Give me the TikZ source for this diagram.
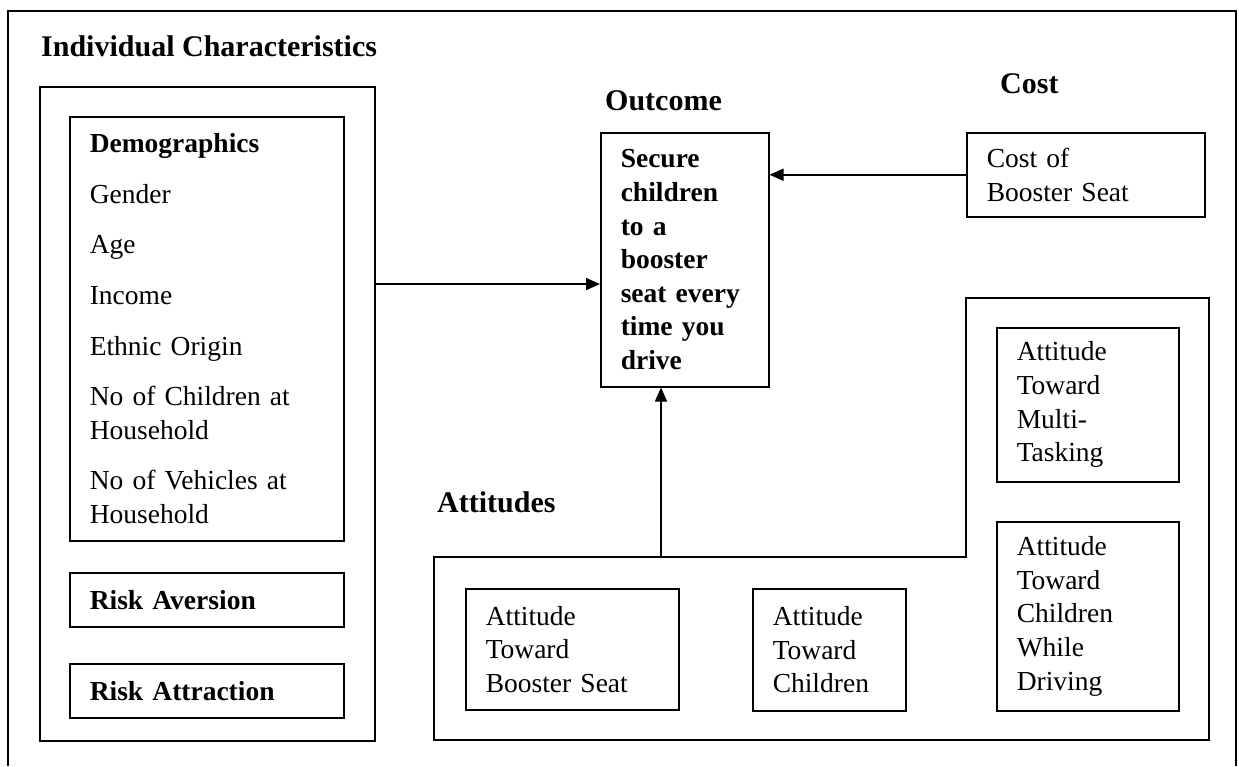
\documentclass[tikz,border=0pt]{standalone}
\usepackage{fontspec}
\setmainfont{Liberation Serif}
\usetikzlibrary{positioning, arrows.meta}

\newcommand{\bodyfont}{\fontsize{27.5}{33.6}\selectfont}
\newcommand{\headfont}{\fontsize{30}{36}\selectfont\bfseries}

\begin{document}
\begin{tikzpicture}[
        x=1pt, y=-1pt,
        box/.style={
            rectangle,
            draw,
            line width=1.5pt,
            anchor=north west,
            inner xsep=20pt,
            inner ysep=0pt,
            align=left,
            font=\bodyfont
        },
        frame/.style={
            draw,
            line width=1.5pt
        },
        head/.style={
            anchor=base west,
            inner sep=0pt,
            font=\headfont
        },
        line/.style={draw, -{Triangle[length=14pt, width=12pt]}, line width=1.5pt}
    ]
        \useasboundingbox (0,0) rectangle (1239,766);

        % Outer frame
        \draw [line width=1.8pt] (8,766) -- (8,11) -- (1236,11) -- (1236,766);

        % Headings
        \node [head] (indivlbl) at (41,56) {Individual Characteristics};
        \node [head] (outlbl) at (605,110) {Outcome};
        \node [head] (costlbl) at (1000,93) {Cost};
        \node [head] (attlbl) at (437,512) {Attitudes};

        % Individual characteristics
        \node [box, minimum width=335pt, minimum height=654pt] (indiv) at (39,86) {};
        \node [box, text width=234pt, minimum height=424pt] (demo) at (69,116)
            {\textbf{Demographics}\\[17pt] Gender\\[17pt] Age\\[17pt] Income\\[17pt]
             Ethnic Origin\\[17pt] No of Children at\\ Household\\[17pt]
             No of Vehicles at\\ Household};
        \node [box, text width=234pt, minimum height=54pt] (aversion) at (69,572) {\textbf{Risk Aversion}};
        \node [box, text width=234pt, minimum height=54pt] (attraction) at (69,663) {\textbf{Risk Attraction}};

        % Outcome and cost
        \node [box, text width=128pt, minimum height=254pt] (outcome) at (600,132)
            {\textbf{Secure}\\ \textbf{children}\\ \textbf{to a}\\ \textbf{booster}\\
             \textbf{seat every}\\ \textbf{time you}\\ \textbf{drive}};
        \node [box, text width=198pt, minimum height=84pt] (cost) at (966,132) {Cost of\\ Booster Seat};

        % Attitudes
        \path [frame] (434,557) -- (966,557) -- (966,298) -- (1209,298) -- (1209,740) -- (434,740) -- cycle;
        \coordinate (attin) at (661,557);
        \node [box, text width=142pt, minimum height=154pt] (multi) at (996,327) {Attitude\\ Toward\\ Multi-\\ Tasking};
        \node [box, text width=142pt, minimum height=189pt] (driving) at (996,521) {Attitude\\ Toward\\ Children\\ While\\ Driving};
        \node [box, text width=173pt, minimum height=121pt] (booster) at (465,588) {Attitude\\ Toward\\ Booster Seat};
        \node [box, text width=113pt, minimum height=122pt] (children) at (752,588) {Attitude\\ Toward\\ Children};

        % Paths
        \path [line] (indiv.east |- outcome.196) -- (outcome.196);
        \path [line] (cost.west) -- (outcome.east |- cost.west);
        \path [line] (attin) -- (attin |- outcome.south);
    \end{tikzpicture}
\end{document}
